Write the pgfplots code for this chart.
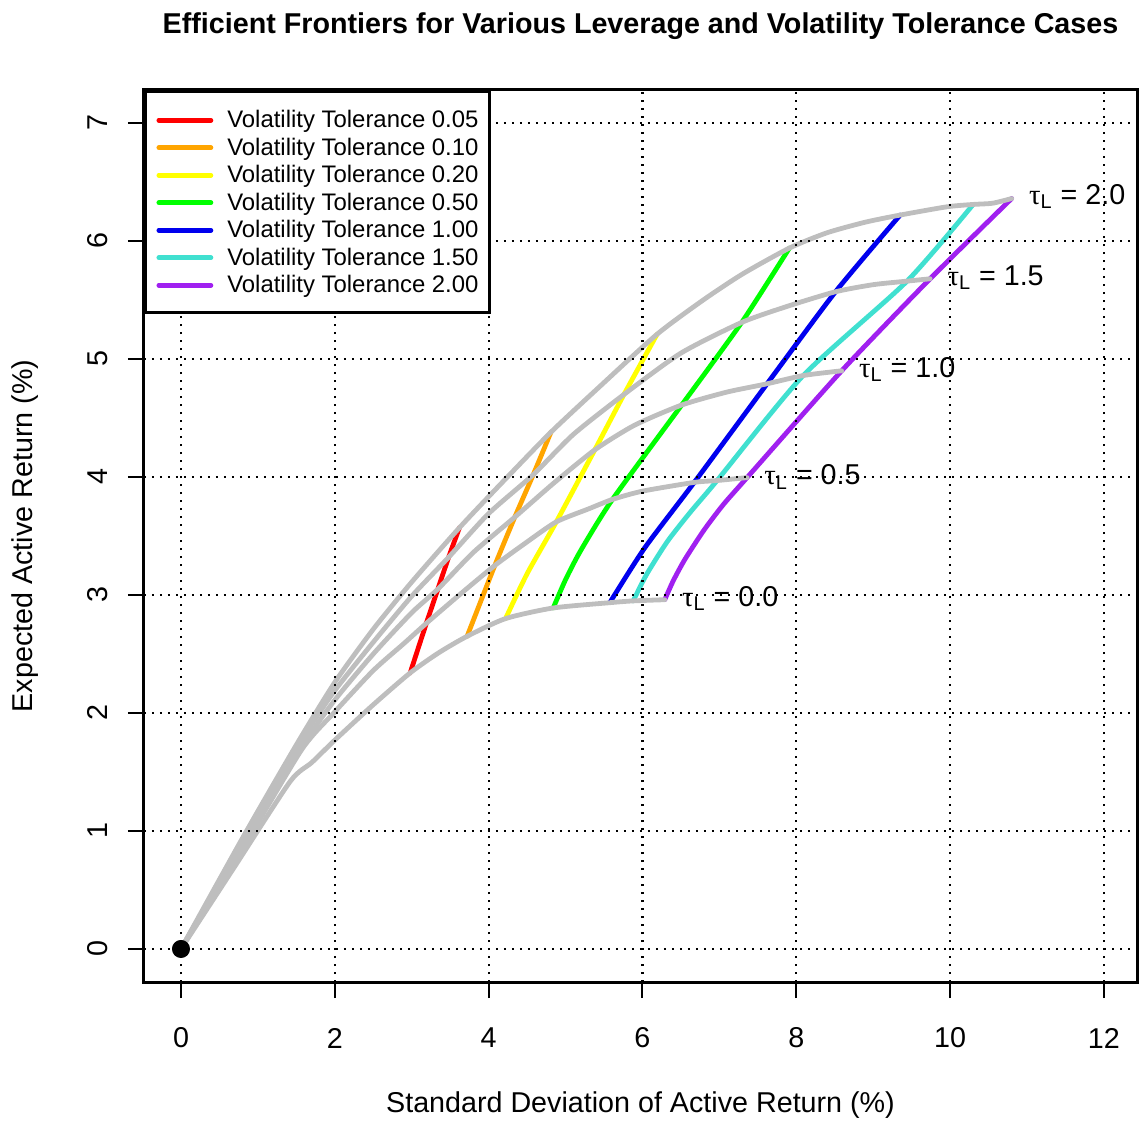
\documentclass[border=0pt]{standalone}
\usepackage{pgfplots}
\pgfplotsset{compat=1.18}
\usepackage{fontspec}
\setmainfont{Liberation Sans}
\newfontfamily\symf{Liberation Serif}
\definecolor{rgray}{HTML}{BEBEBE}
\definecolor{rred}{HTML}{FF0000}
\definecolor{rorange}{HTML}{FFA500}
\definecolor{ryellow}{HTML}{FFFF00}
\definecolor{rgreen}{HTML}{00FF00}
\definecolor{rblue}{HTML}{0000EE}
\definecolor{rcyan}{HTML}{40E0D0}
\definecolor{rpurple}{HTML}{A020F0}
\begin{document}
\begin{tikzpicture}
\useasboundingbox (-72bp,-70bp) rectangle (498bp,491bp);
\begin{axis}[
  at={(0,0)}, anchor=south west,
  scale only axis, width=496.5bp, height=446bp,
  xmin=-0.481, xmax=12.43, ymin=-0.28, ymax=7.28,
  xtick={0,2,4,6,8,10,12}, ytick={0,1,2,3,4,5,6,7},
  tick pos=left, tick align=outside, major tick length=8bp,
  tick style={black, line width=1bp},
  axis line style={black, line width=1.5bp},
  grid=major,
  major grid style={black, line width=1.1bp, dash pattern=on 1.1bp off 2.9bp},
  axis on top,
  /pgf/number format/assume math mode=true,
  tick label style={font=\fontsize{14.4}{17}\selectfont},
  xticklabel shift=20bp, xticklabel style={anchor=center},
  yticklabel shift=15.25bp, yticklabel style={rotate=90, anchor=center},
  title={Efficient Frontiers for Various Leverage and Volatility Tolerance Cases},
  title style={at={(axis description cs:0.5,1.0583)}, anchor=center, font=\bfseries\fontsize{14.4}{17}\selectfont},
  xlabel={Standard Deviation of Active Return (\%)},
  xlabel style={at={(axis description cs:0.5,-0.1379)}, anchor=center, font=\fontsize{14.4}{17}\selectfont},
  ylabel={Expected Active Return (\%)},
  ylabel style={at={(axis description cs:-0.1198,0.5)}, anchor=center, rotate=0, font=\fontsize{14.4}{17}\selectfont},
  legend style={at={(0,1)}, anchor=north west, draw=black, line width=1.5bp, fill=white,
    font=\fontsize{12}{13.75}\selectfont,
    inner xsep=5.5bp, inner ysep=7.1bp, row sep=0pt, column sep=7bp,
    nodes={inner sep=0pt, text height=11bp, text depth=2.75bp}},
  legend cell align=left,
  legend image code/.code={\path (0bp,-0.4bp) -- (26bp,-0.4bp);\draw[#1, line width=2.4bp, line cap=round] (8.2bp,-0.4bp) -- (23.3bp,-0.4bp);},
  every axis plot/.append style={line width=2.4bp, line cap=round, line join=round},
]
% coloured volatility-tolerance lines
\addplot[rred, smooth, tension=0.4] coordinates {(2.98,2.34) (3.19,2.76) (3.34,3.05) (3.48,3.32) (3.62,3.57)};
\addlegendentry{Volatility Tolerance 0.05}
\addplot[rorange, smooth, tension=0.4] coordinates {(3.72,2.65) (4.08,3.25) (4.34,3.66) (4.58,4.02) (4.81,4.38)};
\addlegendentry{Volatility Tolerance 0.10}
\addplot[ryellow, smooth, tension=0.4] coordinates {(4.22,2.80) (4.50,3.18) (4.88,3.62) (5.38,4.23) (5.76,4.70) (6.19,5.21)};
\addlegendentry{Volatility Tolerance 0.20}
\addplot[rgreen, smooth, tension=0.4] coordinates {(4.84,2.89) (5.0,3.13) (5.2,3.38) (5.61,3.81) (6.51,4.61) (7.29,5.31) (7.91,5.94)};
\addlegendentry{Volatility Tolerance 0.50}
\addplot[rblue, smooth, tension=0.4] coordinates {(5.58,2.94) (6.03,3.40) (6.68,3.96) (7.62,4.79) (8.51,5.57) (9.35,6.22)};
\addlegendentry{Volatility Tolerance 1.00}
\addplot[rcyan, smooth, tension=0.4] coordinates {(5.88,2.95) (6.05,3.17) (6.32,3.45) (6.62,3.70) (6.97,3.97) (8.09,4.86) (9.44,5.66) (10.30,6.31)};
\addlegendentry{Volatility Tolerance 1.50}
\addplot[rpurple, smooth, tension=0.4] coordinates {(6.29,2.96) (6.40,3.12) (6.55,3.30) (6.80,3.55) (7.05,3.765) (7.36,3.995) (8.59,4.90) (9.74,5.68) (10.80,6.36)};
\addlegendentry{Volatility Tolerance 2.00}
% grey leverage frontiers
\addplot[rgray, smooth, tension=0.4, forget plot] coordinates {(0,0) (0.7,0.70) (1.42,1.42) (1.7,1.58) (2.0,1.77) (2.5,2.07) (2.98,2.34) (3.35,2.51) (3.72,2.65) (4.22,2.80) (4.84,2.89) (5.58,2.935) (5.88,2.95) (6.29,2.96)};
\addplot[rgray, smooth, tension=0.4, forget plot] coordinates {(0,0) (0.8,0.85) (1.57,1.69) (2.0,2.01) (2.5,2.36) (2.9,2.59) (3.19,2.76) (3.6,2.99) (4.08,3.25) (4.5,3.45) (4.88,3.62) (5.3,3.73) (5.61,3.81) (6.0,3.88) (6.68,3.955) (6.97,3.97) (7.36,3.995)};
\addplot[rgray, smooth, tension=0.4, forget plot] coordinates {(0,0) (0.8,0.88) (1.6,1.74) (2.0,2.11) (2.5,2.50) (3.0,2.85) (3.34,3.05) (3.8,3.36) (4.34,3.66) (4.85,3.95) (5.38,4.23) (5.9,4.44) (6.51,4.61) (7.1,4.72) (7.62,4.79) (8.09,4.86) (8.59,4.90)};
\addplot[rgray, smooth, tension=0.4, forget plot] coordinates {(0,0) (0.8,0.91) (1.6,1.80) (2.0,2.19) (2.5,2.60) (3.0,2.99) (3.48,3.32) (4.0,3.69) (4.58,4.02) (5.1,4.36) (5.76,4.70) (6.5,5.05) (7.29,5.31) (7.9,5.45) (8.51,5.57) (9.0,5.63) (9.44,5.66) (9.74,5.68)};
\addplot[rgray, smooth, tension=0.4, forget plot] coordinates {(0,0) (0.8,0.94) (1.5,1.73) (2.0,2.26) (2.5,2.71) (3.0,3.11) (3.62,3.57) (4.2,3.97) (4.81,4.38) (5.45,4.77) (6.19,5.21) (6.79,5.50) (7.3,5.72) (7.91,5.94) (8.4,6.07) (8.9,6.16) (9.35,6.22) (9.96,6.29) (10.30,6.31) (10.55,6.32) (10.80,6.36)};
% origin point
\addplot[only marks, mark=*, mark size=3.3bp, black, forget plot] coordinates {(0,0)};
% leverage labels
\tikzset{tl/.style={anchor=west, inner sep=0pt, xshift=8.5bp, font=\fontsize{14.4}{17}\selectfont}}
\node[tl] at (axis cs:6.29,2.97) {{\symf τ}\textsubscript{L} = 0.0};
\node[tl] at (axis cs:7.36,4.00) {{\symf τ}\textsubscript{L} = 0.5};
\node[tl] at (axis cs:8.59,4.91) {{\symf τ}\textsubscript{L} = 1.0};
\node[tl] at (axis cs:9.74,5.69) {{\symf τ}\textsubscript{L} = 1.5};
\node[tl] at (axis cs:10.80,6.38) {{\symf τ}\textsubscript{L} = 2.0};
\end{axis}
\end{tikzpicture}
\end{document}
